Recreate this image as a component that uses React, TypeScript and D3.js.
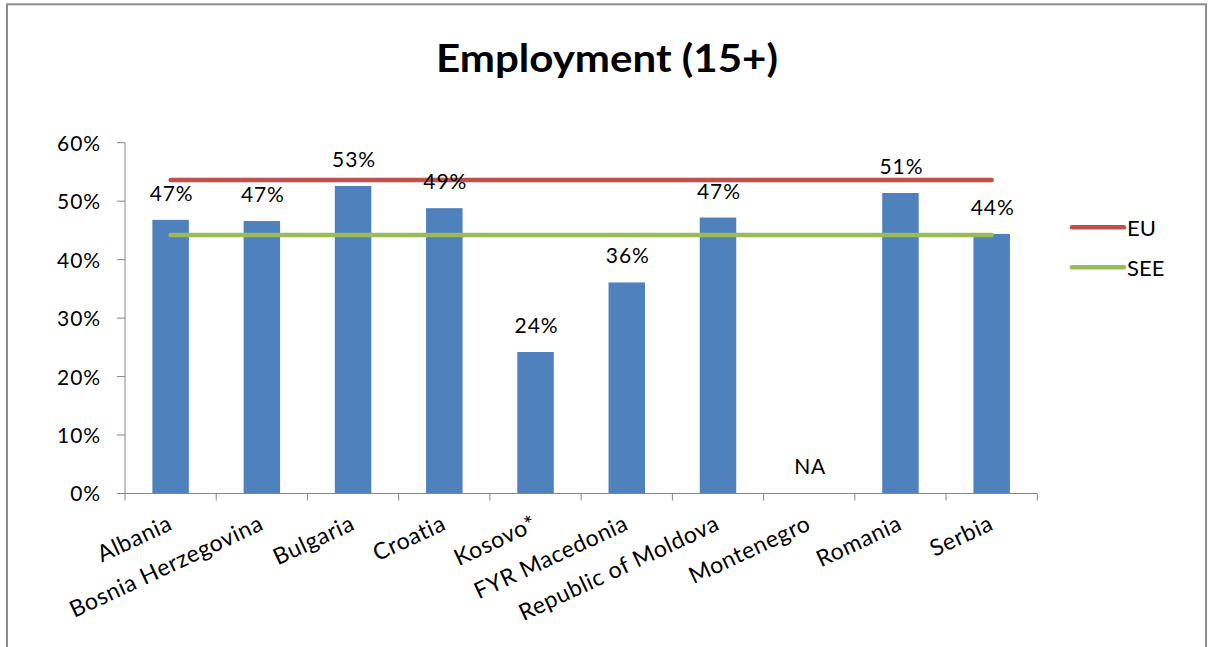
import React from "react";
import * as d3 from "d3";

const categories = [
  "Albania",
  "Bosnia Herzegovina",
  "Bulgaria",
  "Croatia",
  "Kosovo*",
  "FYR Macedonia",
  "Republic of Moldova",
  "Montenegro",
  "Romania",
  "Serbia",
];
const employment: (number | null)[] = [0.468, 0.466, 0.526, 0.488, 0.242, 0.361, 0.472, null, 0.514, 0.444];
const euValue = 0.536;
const seeValue = 0.442;
const yTicks = [0, 0.1, 0.2, 0.3, 0.4, 0.5, 0.6];
const seriesNames = ["EU", "SEE"];

const W = 1211;
const H = 647;
const FONT = "Lato, 'Open Sans', 'DejaVu Sans', sans-serif";
const BLUE = "#4F81BD";
const RED = "#C0504D";
const GREEN = "#9BBB59";
const AXIS = "#868686";

export default function App() {
  const x = d3.scaleBand<string>().domain(categories).range([125, 1037.3]).padding(0);
  const y = d3.scaleLinear().domain([0, 0.6]).range([493.5, 142.7]);
  const bw = x.bandwidth() * 0.4;
  const cx = (c: string) => (x(c) as number) + x.bandwidth() / 2;
  const pct = d3.format(".0%");
  const lineGen = d3
    .line<number>()
    .x((_, i) => cx(categories[i]))
    .y((d) => y(d));
  const euLine = lineGen(categories.map(() => euValue)) as string;
  const seeLine = lineGen(categories.map(() => seeValue)) as string;
  const boundaries = categories.map((c) => x(c) as number).concat([x.range()[1]]);

  return (
    <svg
      width={W}
      height={H}
      style={{ position: "absolute", left: 0, top: 0, background: "#fff" }}
      fontFamily={FONT}
    >
      <rect x={0} y={0} width={W} height={H} fill="#fff" />
      <rect x={7} y={4.3} width={1199} height={700} fill="none" stroke="#8c8c8c" strokeWidth={2} />

      <text
        x={607}
        y={71.7}
        textAnchor="middle"
        fontSize={39}
        fontWeight="bold"
        fill="#000"
        textLength={342}
        lengthAdjust="spacingAndGlyphs"
      >
        Employment (15+)
      </text>

      {/* y axis */}
      <line x1={125} x2={125} y1={y(0.6)} y2={y(0)} stroke={AXIS} strokeWidth={1} />
      {yTicks.map((t) => (
        <g key={t}>
          <line x1={117} x2={125} y1={y(t)} y2={y(t)} stroke={AXIS} strokeWidth={1} />
          <text x={101} y={y(t)} dy="0.38em" textAnchor="end" fontSize={21} letterSpacing={0.9} fill="#000">
            {pct(t)}
          </text>
        </g>
      ))}

      {/* bars */}
      {categories.map((c, i) => {
        const v = employment[i];
        if (v == null) return null;
        return <rect key={c} x={cx(c) - bw / 2} y={y(v)} width={bw} height={y(0) - y(v)} fill={BLUE} />;
      })}

      {/* x axis */}
      <line x1={125} x2={1037.3} y1={y(0)} y2={y(0)} stroke={AXIS} strokeWidth={1} />
      {boundaries.map((b, i) => (
        <line key={i} x1={b} x2={b} y1={y(0)} y2={y(0) + 7} stroke={AXIS} strokeWidth={1} />
      ))}
      {categories.map((c) => (
        <text
          key={c}
          transform={`translate(${cx(c) - 4},${514}) rotate(-25)`}
          textAnchor="end"
          dy="0.72em"
          fontSize={23}
          letterSpacing={0.6}
          fill="#000"
        >
          {c}
        </text>
      ))}

      {/* lines */}
      <path d={euLine} fill="none" stroke={RED} strokeWidth={4.5} strokeLinecap="round" />
      <path d={seeLine} fill="none" stroke={GREEN} strokeWidth={4.5} strokeLinecap="round" />

      {/* data labels */}
      {categories.map((c, i) => {
        const v = employment[i];
        return (
          <text
            key={c}
            x={cx(c) + 1}
            y={y(v == null ? 0 : v) - 27}
            dy="0.38em"
            textAnchor="middle"
            fontSize={21}
            letterSpacing={0.9}
            fill="#000"
          >
            {v == null ? "NA" : pct(v)}
          </text>
        );
      })}

      {/* legend */}
      {seriesNames.map((s, i) => (
        <g key={s}>
          <line
            x1={1072}
            x2={1124}
            y1={227.3 + i * 40}
            y2={227.3 + i * 40}
            stroke={i === 0 ? RED : GREEN}
            strokeWidth={4.5}
            strokeLinecap="round"
          />
          <text x={1127} y={227.3 + i * 40} dy="0.38em" fontSize={22} fill="#000">
            {s}
          </text>
        </g>
      ))}
    </svg>
  );
}
